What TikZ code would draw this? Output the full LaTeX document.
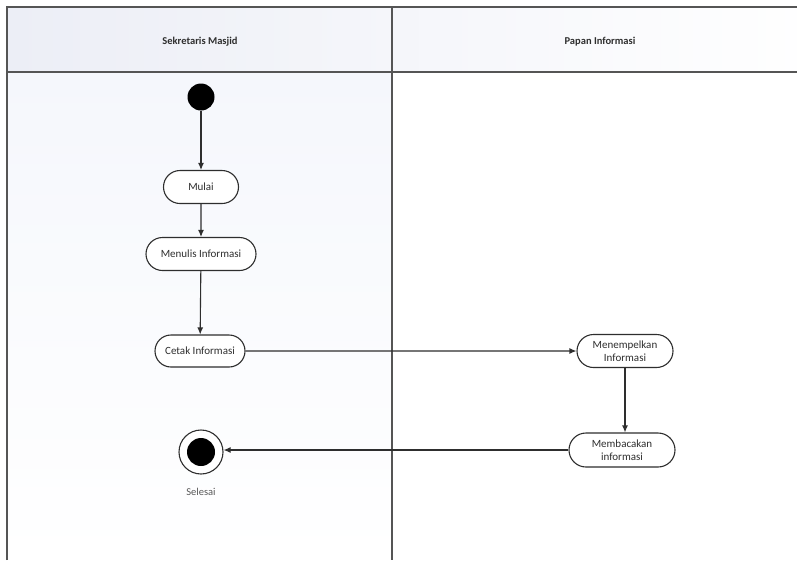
\documentclass[tikz,border=0pt]{standalone}
\usepackage{fontspec}
\setmainfont{Carlito}
\usetikzlibrary{arrows.meta,shapes.misc}
\definecolor{ink}{HTML}{2E2E2E}
\definecolor{frame}{HTML}{555555}
\definecolor{paleblue}{HTML}{ECEEF6}
\definecolor{lanetint}{HTML}{F5F7FC}
\tikzset{
  act/.style={draw=ink, line width=1.1pt, rounded rectangle, fill=white,
    text=ink, font=\fontsize{11}{12.5}\selectfont, align=center,
    inner sep=0pt},
  flow/.style={draw=ink, line width=1.1pt, -{Latex[length=7pt,width=6pt]}},
  lanehead/.style={font=\bfseries\fontsize{10.5}{12}\selectfont, text=ink},
  lanerule/.style={draw=frame, line width=1.6pt}
}
\begin{document}
\begin{tikzpicture}[x=1pt,y=-1pt]
  \useasboundingbox (0,0) rectangle (797,560);
  \fill[white] (0,0) rectangle (797,560);
  % lane tints
  \shade[left color=paleblue, right color=white!96!paleblue] (7,7) rectangle (797,72);
  \shade[top color=lanetint, bottom color=white] (7,72) rectangle (392,560);
  % swimlane frame
  \draw[lanerule] (7,560) -- (7,7) -- (797,7);
  \draw[lanerule] (7,72) -- (797,72);
  \draw[lanerule] (392,7) -- (392,560);
  % lane titles
  \node[lanehead] (laneA) at (200,42) {Sekretaris Masjid};
  \node[lanehead] (laneB) at (600,42) {Papan Informasi};
  % activities
  \node[circle, fill=black, minimum size=27pt, inner sep=0pt] (start) at (201,97) {};
  \node[act, minimum width=75pt, minimum height=33pt] (mulai) at (201,187) {Mulai};
  \node[act, minimum width=110pt, minimum height=33pt] (tulis) at (201,254) {Menulis Informasi};
  \node[act, minimum width=90pt, minimum height=32pt] (cetak) at (200,351) {Cetak Informasi};
  \node[act, minimum width=96pt, minimum height=33pt] (tempel) at (625,351) {Menempelkan\\Informasi};
  \node[act, minimum width=106pt, minimum height=34pt] (baca) at (622,450) {Membacakan\\informasi};
  \node[circle, draw=ink, line width=1.1pt, fill=white, minimum size=44pt, inner sep=0pt] (akhir) at (201,452) {};
  \node[circle, fill=black, minimum size=28pt, inner sep=0pt] at (akhir) {};
  \node[text=ink!80, font=\fontsize{10.5}{12}\selectfont] (selesai) at (201,492) {Selesai};
  % control flow
  \draw[flow] (start) -- (mulai);
  \draw[flow] (mulai) -- (tulis);
  \draw[flow] (tulis) -- (cetak);
  \draw[flow] (cetak) -- (tempel);
  \draw[flow] (tempel.south) -- (tempel.south |- baca.north);
  \draw[flow] (baca.west) -- (akhir.east |- baca.west);
\end{tikzpicture}
\end{document}
